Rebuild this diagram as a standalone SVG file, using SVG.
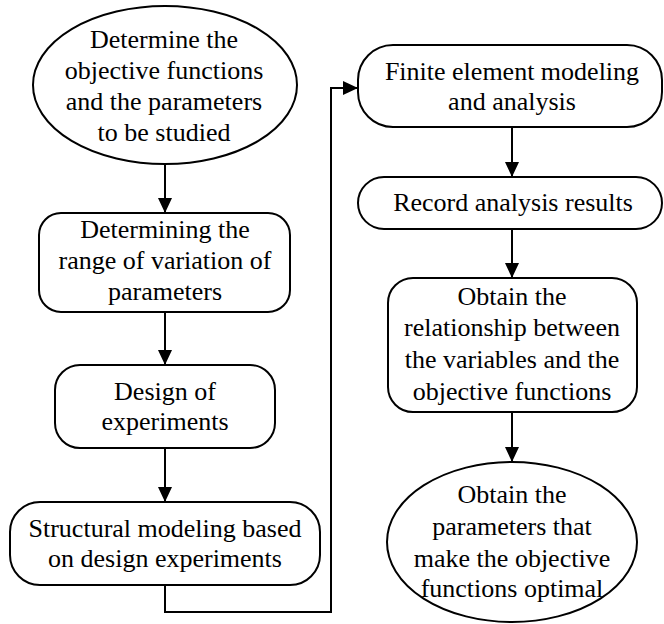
<svg xmlns="http://www.w3.org/2000/svg" width="664" height="624" viewBox="0 0 664 624">
<defs>
<marker id="ah" markerUnits="userSpaceOnUse" markerWidth="16" markerHeight="14" refX="15" refY="7" orient="auto">
<path d="M0,0 L15,7 L0,14 Z" fill="#000"/>
</marker>
<style>
.n{fill:#fff;stroke:#000;stroke-width:2}
.t{font-size:26px;fill:#000;text-anchor:middle}
.c{fill:none;stroke:#000;stroke-width:2}
</style>
</defs>
<rect width="664" height="624" fill="#fff"/>
<g id="connectors">
<line class="c" x1="165" y1="164" x2="165" y2="213" marker-end="url(#ah)"/>
<line class="c" x1="165" y1="312" x2="165" y2="365" marker-end="url(#ah)"/>
<line class="c" x1="165" y1="448" x2="165" y2="502" marker-end="url(#ah)"/>
<polyline class="c" points="165,585 165,612 331,612 331,88 358,88" marker-end="url(#ah)"/>
<line class="c" x1="512" y1="127" x2="512" y2="177" marker-end="url(#ah)"/>
<line class="c" x1="512" y1="229" x2="512" y2="278" marker-end="url(#ah)"/>
<line class="c" x1="512" y1="412" x2="512" y2="462" marker-end="url(#ah)"/>
</g>
<g font-family="Liberation Serif, Times New Roman, serif">
<g id="n1">
<ellipse class="n" cx="165" cy="85" rx="132" ry="79"/>
<text class="t" x="164" y="48">Determine the</text>
<text class="t" x="164" y="79">objective functions</text>
<text class="t" x="164" y="110">and the parameters</text>
<text class="t" x="164" y="141">to be studied</text>
</g>
<g id="n2">
<rect class="n" x="39" y="213" width="251" height="99" rx="22"/>
<text class="t" x="165" y="238">Determining the</text>
<text class="t" x="165" y="269">range of variation of</text>
<text class="t" x="165" y="300">parameters</text>
</g>
<g id="n3">
<rect class="n" x="55" y="365" width="220" height="83" rx="25"/>
<text class="t" x="165" y="400">Design of</text>
<text class="t" x="165" y="430">experiments</text>
</g>
<g id="n4">
<rect class="n" x="10" y="502" width="310" height="83" rx="30"/>
<text class="t" x="165" y="537">Structural modeling based</text>
<text class="t" x="165" y="567">on design experiments</text>
</g>
<g id="n5">
<rect class="n" x="358" y="45" width="304" height="82" rx="35"/>
<text class="t" x="512" y="80">Finite element modeling</text>
<text class="t" x="512" y="110">and analysis</text>
</g>
<g id="n6">
<rect class="n" x="358" y="177" width="304" height="52" rx="26"/>
<text class="t" x="513" y="211">Record analysis results</text>
</g>
<g id="n7">
<rect class="n" x="388" y="278" width="249" height="134" rx="25"/>
<text class="t" x="512" y="305">Obtain the</text>
<text class="t" x="512" y="336">relationship between</text>
<text class="t" x="512" y="368">the variables and the</text>
<text class="t" x="512" y="400">objective functions</text>
</g>
<g id="n8">
<ellipse class="n" cx="512" cy="542" rx="125" ry="80"/>
<text class="t" x="512" y="503">Obtain the</text>
<text class="t" x="512" y="535">parameters that</text>
<text class="t" x="512" y="567">make the objective</text>
<text class="t" x="512" y="597">functions optimal</text>
</g>
</g>
</svg>
